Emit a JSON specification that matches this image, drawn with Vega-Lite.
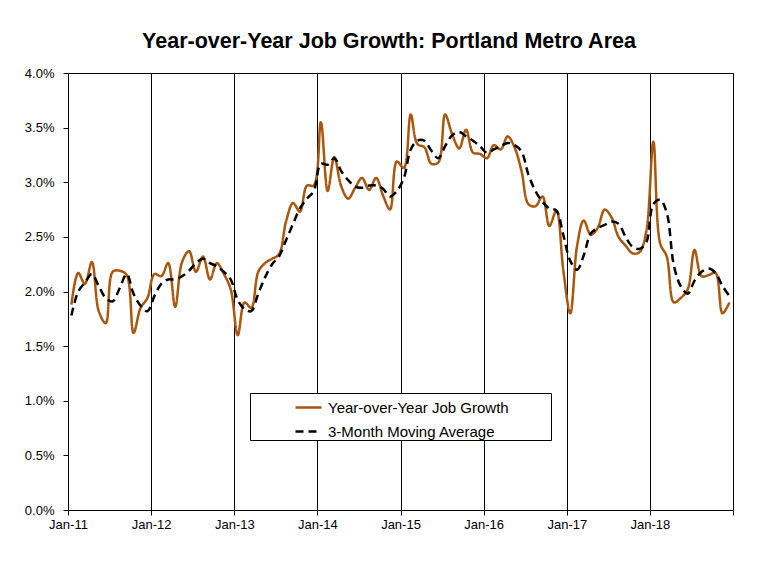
{
  "$schema": "https://vega.github.io/schema/vega-lite/v6.json",
  "width": 665,
  "height": 437,
  "autosize": {"type": "none"},
  "padding": {"left": 68, "top": 73, "right": 39, "bottom": 60},
  "background": "white",
  "title": {
    "text": "Year-over-Year Job Growth: Portland Metro Area",
    "font": "Liberation Sans",
    "fontSize": 21.5,
    "fontWeight": "bold",
    "color": "black",
    "anchor": "middle",
    "offset": 15,
    "dx": -11.5
  },
  "config": {
    "view": {"stroke": "black", "strokeWidth": 1},
    "font": "Liberation Sans"
  },
  "data": {
    "values": [
      {"month": "2011-01-16", "Year-over-Year Job Growth": 1.88, "3-Month Moving Average": 1.78},
      {"month": "2011-02-15", "Year-over-Year Job Growth": 2.17, "3-Month Moving Average": 2.00},
      {"month": "2011-03-16", "Year-over-Year Job Growth": 2.07, "3-Month Moving Average": 2.08},
      {"month": "2011-04-16", "Year-over-Year Job Growth": 2.27, "3-Month Moving Average": 2.16},
      {"month": "2011-05-16", "Year-over-Year Job Growth": 1.82, "3-Month Moving Average": 2.05},
      {"month": "2011-06-16", "Year-over-Year Job Growth": 1.71, "3-Month Moving Average": 1.94},
      {"month": "2011-07-16", "Year-over-Year Job Growth": 2.18, "3-Month Moving Average": 1.91},
      {"month": "2011-08-16", "Year-over-Year Job Growth": 2.19, "3-Month Moving Average": 2.03},
      {"month": "2011-09-16", "Year-over-Year Job Growth": 2.15, "3-Month Moving Average": 2.16},
      {"month": "2011-10-16", "Year-over-Year Job Growth": 1.62, "3-Month Moving Average": 1.98},
      {"month": "2011-11-16", "Year-over-Year Job Growth": 1.85, "3-Month Moving Average": 1.87},
      {"month": "2011-12-16", "Year-over-Year Job Growth": 1.94, "3-Month Moving Average": 1.82},
      {"month": "2012-01-16", "Year-over-Year Job Growth": 2.16, "3-Month Moving Average": 1.96},
      {"month": "2012-02-15", "Year-over-Year Job Growth": 2.14, "3-Month Moving Average": 2.07},
      {"month": "2012-03-16", "Year-over-Year Job Growth": 2.26, "3-Month Moving Average": 2.11},
      {"month": "2012-04-16", "Year-over-Year Job Growth": 1.86, "3-Month Moving Average": 2.11},
      {"month": "2012-05-16", "Year-over-Year Job Growth": 2.27, "3-Month Moving Average": 2.14},
      {"month": "2012-06-16", "Year-over-Year Job Growth": 2.37, "3-Month Moving Average": 2.19},
      {"month": "2012-07-16", "Year-over-Year Job Growth": 2.18, "3-Month Moving Average": 2.26},
      {"month": "2012-08-16", "Year-over-Year Job Growth": 2.32, "3-Month Moving Average": 2.30},
      {"month": "2012-09-16", "Year-over-Year Job Growth": 2.11, "3-Month Moving Average": 2.26},
      {"month": "2012-10-16", "Year-over-Year Job Growth": 2.26, "3-Month Moving Average": 2.23},
      {"month": "2012-11-16", "Year-over-Year Job Growth": 2.16, "3-Month Moving Average": 2.18},
      {"month": "2012-12-16", "Year-over-Year Job Growth": 2.02, "3-Month Moving Average": 2.11},
      {"month": "2013-01-16", "Year-over-Year Job Growth": 1.60, "3-Month Moving Average": 1.92},
      {"month": "2013-02-15", "Year-over-Year Job Growth": 1.90, "3-Month Moving Average": 1.84},
      {"month": "2013-03-16", "Year-over-Year Job Growth": 1.85, "3-Month Moving Average": 1.82},
      {"month": "2013-04-16", "Year-over-Year Job Growth": 2.18, "3-Month Moving Average": 1.98},
      {"month": "2013-05-16", "Year-over-Year Job Growth": 2.26, "3-Month Moving Average": 2.13},
      {"month": "2013-06-16", "Year-over-Year Job Growth": 2.30, "3-Month Moving Average": 2.25},
      {"month": "2013-07-16", "Year-over-Year Job Growth": 2.34, "3-Month Moving Average": 2.32},
      {"month": "2013-08-16", "Year-over-Year Job Growth": 2.64, "3-Month Moving Average": 2.47},
      {"month": "2013-09-16", "Year-over-Year Job Growth": 2.81, "3-Month Moving Average": 2.62},
      {"month": "2013-10-16", "Year-over-Year Job Growth": 2.73, "3-Month Moving Average": 2.76},
      {"month": "2013-11-16", "Year-over-Year Job Growth": 2.97, "3-Month Moving Average": 2.85},
      {"month": "2013-12-16", "Year-over-Year Job Growth": 2.97, "3-Month Moving Average": 2.92},
      {"month": "2014-01-16", "Year-over-Year Job Growth": 3.55, "3-Month Moving Average": 3.17},
      {"month": "2014-02-15", "Year-over-Year Job Growth": 2.92, "3-Month Moving Average": 3.16},
      {"month": "2014-03-16", "Year-over-Year Job Growth": 3.23, "3-Month Moving Average": 3.22},
      {"month": "2014-04-16", "Year-over-Year Job Growth": 2.96, "3-Month Moving Average": 3.10},
      {"month": "2014-05-16", "Year-over-Year Job Growth": 2.85, "3-Month Moving Average": 3.02},
      {"month": "2014-06-16", "Year-over-Year Job Growth": 2.95, "3-Month Moving Average": 2.96},
      {"month": "2014-07-16", "Year-over-Year Job Growth": 3.04, "3-Month Moving Average": 2.95},
      {"month": "2014-08-16", "Year-over-Year Job Growth": 2.93, "3-Month Moving Average": 2.97},
      {"month": "2014-09-16", "Year-over-Year Job Growth": 3.04, "3-Month Moving Average": 2.97},
      {"month": "2014-10-16", "Year-over-Year Job Growth": 2.88, "3-Month Moving Average": 2.94},
      {"month": "2014-11-16", "Year-over-Year Job Growth": 2.75, "3-Month Moving Average": 2.87},
      {"month": "2014-12-16", "Year-over-Year Job Growth": 3.19, "3-Month Moving Average": 2.92},
      {"month": "2015-01-16", "Year-over-Year Job Growth": 3.13, "3-Month Moving Average": 3.04},
      {"month": "2015-02-15", "Year-over-Year Job Growth": 3.62, "3-Month Moving Average": 3.30},
      {"month": "2015-03-16", "Year-over-Year Job Growth": 3.35, "3-Month Moving Average": 3.38},
      {"month": "2015-04-16", "Year-over-Year Job Growth": 3.32, "3-Month Moving Average": 3.38},
      {"month": "2015-05-16", "Year-over-Year Job Growth": 3.17, "3-Month Moving Average": 3.29},
      {"month": "2015-06-16", "Year-over-Year Job Growth": 3.18, "3-Month Moving Average": 3.22},
      {"month": "2015-07-16", "Year-over-Year Job Growth": 3.62, "3-Month Moving Average": 3.33},
      {"month": "2015-08-16", "Year-over-Year Job Growth": 3.44, "3-Month Moving Average": 3.43},
      {"month": "2015-09-16", "Year-over-Year Job Growth": 3.31, "3-Month Moving Average": 3.46},
      {"month": "2015-10-16", "Year-over-Year Job Growth": 3.48, "3-Month Moving Average": 3.42},
      {"month": "2015-11-16", "Year-over-Year Job Growth": 3.27, "3-Month Moving Average": 3.38},
      {"month": "2015-12-16", "Year-over-Year Job Growth": 3.26, "3-Month Moving Average": 3.33},
      {"month": "2016-01-16", "Year-over-Year Job Growth": 3.22, "3-Month Moving Average": 3.27},
      {"month": "2016-02-15", "Year-over-Year Job Growth": 3.34, "3-Month Moving Average": 3.30},
      {"month": "2016-03-16", "Year-over-Year Job Growth": 3.30, "3-Month Moving Average": 3.33},
      {"month": "2016-04-16", "Year-over-Year Job Growth": 3.42, "3-Month Moving Average": 3.36},
      {"month": "2016-05-16", "Year-over-Year Job Growth": 3.32, "3-Month Moving Average": 3.34},
      {"month": "2016-06-16", "Year-over-Year Job Growth": 3.10, "3-Month Moving Average": 3.28},
      {"month": "2016-07-16", "Year-over-Year Job Growth": 2.80, "3-Month Moving Average": 3.07},
      {"month": "2016-08-16", "Year-over-Year Job Growth": 2.78, "3-Month Moving Average": 2.92},
      {"month": "2016-09-16", "Year-over-Year Job Growth": 2.87, "3-Month Moving Average": 2.82},
      {"month": "2016-10-16", "Year-over-Year Job Growth": 2.60, "3-Month Moving Average": 2.76},
      {"month": "2016-11-16", "Year-over-Year Job Growth": 2.74, "3-Month Moving Average": 2.74},
      {"month": "2016-12-16", "Year-over-Year Job Growth": 2.20, "3-Month Moving Average": 2.52},
      {"month": "2017-01-16", "Year-over-Year Job Growth": 1.80, "3-Month Moving Average": 2.28},
      {"month": "2017-02-15", "Year-over-Year Job Growth": 2.42, "3-Month Moving Average": 2.20},
      {"month": "2017-03-16", "Year-over-Year Job Growth": 2.65, "3-Month Moving Average": 2.33},
      {"month": "2017-04-16", "Year-over-Year Job Growth": 2.52, "3-Month Moving Average": 2.53},
      {"month": "2017-05-16", "Year-over-Year Job Growth": 2.58, "3-Month Moving Average": 2.58},
      {"month": "2017-06-16", "Year-over-Year Job Growth": 2.75, "3-Month Moving Average": 2.61},
      {"month": "2017-07-16", "Year-over-Year Job Growth": 2.68, "3-Month Moving Average": 2.64},
      {"month": "2017-08-16", "Year-over-Year Job Growth": 2.50, "3-Month Moving Average": 2.62},
      {"month": "2017-09-16", "Year-over-Year Job Growth": 2.42, "3-Month Moving Average": 2.50},
      {"month": "2017-10-16", "Year-over-Year Job Growth": 2.35, "3-Month Moving Average": 2.41},
      {"month": "2017-11-16", "Year-over-Year Job Growth": 2.36, "3-Month Moving Average": 2.39},
      {"month": "2017-12-16", "Year-over-Year Job Growth": 2.55, "3-Month Moving Average": 2.45},
      {"month": "2018-01-16", "Year-over-Year Job Growth": 3.37, "3-Month Moving Average": 2.80},
      {"month": "2018-02-15", "Year-over-Year Job Growth": 2.44, "3-Month Moving Average": 2.84},
      {"month": "2018-03-16", "Year-over-Year Job Growth": 2.32, "3-Month Moving Average": 2.72},
      {"month": "2018-04-16", "Year-over-Year Job Growth": 1.90, "3-Month Moving Average": 2.24},
      {"month": "2018-05-16", "Year-over-Year Job Growth": 1.94, "3-Month Moving Average": 2.05},
      {"month": "2018-06-16", "Year-over-Year Job Growth": 2.02, "3-Month Moving Average": 1.98},
      {"month": "2018-07-16", "Year-over-Year Job Growth": 2.38, "3-Month Moving Average": 2.10},
      {"month": "2018-08-16", "Year-over-Year Job Growth": 2.14, "3-Month Moving Average": 2.18},
      {"month": "2018-09-16", "Year-over-Year Job Growth": 2.15, "3-Month Moving Average": 2.21},
      {"month": "2018-10-16", "Year-over-Year Job Growth": 2.17, "3-Month Moving Average": 2.17},
      {"month": "2018-11-16", "Year-over-Year Job Growth": 1.80, "3-Month Moving Average": 2.05},
      {"month": "2018-12-16", "Year-over-Year Job Growth": 1.90, "3-Month Moving Average": 1.96}
    ]
  },
  "transform": [
    {"fold": ["Year-over-Year Job Growth", "3-Month Moving Average"], "as": ["series", "value"]}
  ],
  "encoding": {
    "x": {
      "field": "month",
      "type": "temporal",
      "scale": {
        "type": "utc",
        "domain": [
          {"year": 2011, "month": 1, "date": 1, "utc": true},
          {"year": 2019, "month": 1, "date": 1, "utc": true}
        ]
      },
      "axis": {
        "title": null,
        "values": [
          {"year": 2011, "month": 1, "date": 1, "utc": true},
          {"year": 2012, "month": 1, "date": 1, "utc": true},
          {"year": 2013, "month": 1, "date": 1, "utc": true},
          {"year": 2014, "month": 1, "date": 1, "utc": true},
          {"year": 2015, "month": 1, "date": 1, "utc": true},
          {"year": 2016, "month": 1, "date": 1, "utc": true},
          {"year": 2017, "month": 1, "date": 1, "utc": true},
          {"year": 2018, "month": 1, "date": 1, "utc": true},
          {"year": 2019, "month": 1, "date": 1, "utc": true}
        ],
        "labelExpr": "utcyear(datum.value) >= 2019 ? '' : utcFormat(datum.value, '%b-%y')",
        "labelFont": "Liberation Sans",
        "labelFontSize": 13,
        "labelColor": "black",
        "labelPadding": 3,
        "labelFlush": false,
        "labelOverlap": false,
        "tickSize": 5,
        "tickColor": "black",
        "tickWidth": 1,
        "domain": true,
        "domainColor": "black",
        "grid": true,
        "gridColor": "black",
        "gridWidth": 1,
        "gridOpacity": 1
      }
    },
    "y": {
      "field": "value",
      "type": "quantitative",
      "scale": {"domain": [0, 4], "nice": false, "zero": true},
      "axis": {
        "title": null,
        "values": [0, 0.5, 1, 1.5, 2, 2.5, 3, 3.5, 4],
        "labelExpr": "format(datum.value, '.1f') + '%'",
        "labelFont": "Liberation Sans",
        "labelFontSize": 13,
        "labelColor": "black",
        "labelPadding": 9,
        "tickSize": 5,
        "tickColor": "black",
        "domain": true,
        "domainColor": "black",
        "grid": false
      }
    },
    "color": {
      "field": "series",
      "type": "nominal",
      "scale": {
        "domain": ["Year-over-Year Job Growth", "3-Month Moving Average"],
        "range": ["#A9570F", "#000000"]
      },
      "legend": {
        "title": null,
        "orient": "none",
        "legendX": 182,
        "legendY": 320,
        "direction": "vertical",
        "strokeColor": "black",
        "fillColor": "white",
        "padding": 0,
        "symbolType": "stroke",
        "symbolSize": 676,
        "symbolStrokeWidth": 2.5,
        "symbolOffset": 44,
        "labelFont": "Liberation Sans",
        "labelFontSize": 15,
        "labelColor": "black",
        "labelOffset": 5,
        "labelLimit": 600,
        "rowPadding": 1,
        "labelExpr": "datum.label + '          \u200b'"
      }
    },
    "strokeDash": {
      "field": "series",
      "type": "nominal",
      "scale": {
        "domain": ["Year-over-Year Job Growth", "3-Month Moving Average"],
        "range": [[1, 0], [8, 5]]
      },
      "legend": {
        "title": null,
        "orient": "none",
        "legendX": 182,
        "legendY": 320,
        "direction": "vertical",
        "strokeColor": "black",
        "fillColor": "white",
        "padding": 0,
        "symbolType": "stroke",
        "symbolSize": 676,
        "symbolStrokeWidth": 2.5,
        "symbolOffset": 44,
        "labelFont": "Liberation Sans",
        "labelFontSize": 15,
        "labelColor": "black",
        "labelOffset": 5,
        "labelLimit": 600,
        "rowPadding": 1,
        "labelExpr": "datum.label + '          \u200b'"
      }
    }
  },
  "layer": [
    {
      "transform": [{"filter": "datum.series === 'Year-over-Year Job Growth'"}],
      "mark": {"type": "line", "interpolate": "catmull-rom", "strokeWidth": 2.5}
    },
    {
      "transform": [{"filter": "datum.series === '3-Month Moving Average'"}],
      "mark": {"type": "line", "interpolate": "catmull-rom", "strokeWidth": 2.5}
    }
  ]
}
